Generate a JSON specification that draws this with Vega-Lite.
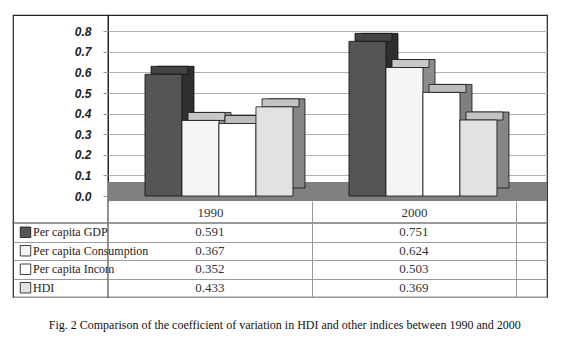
{
  "$schema": "https://vega.github.io/schema/vega-lite/v6.json",
  "padding": {"left": 12, "top": 14, "right": 5, "bottom": 5},
  "background": "white",
  "datasets": {
    "cv": [
      {"year": "1990", "series": "Per capita GDP", "value": 0.591},
      {"year": "1990", "series": "Per capita Consumption", "value": 0.367},
      {"year": "1990", "series": "Per capita Incom", "value": 0.352},
      {"year": "1990", "series": "HDI", "value": 0.433},
      {"year": "2000", "series": "Per capita GDP", "value": 0.751},
      {"year": "2000", "series": "Per capita Consumption", "value": 0.624},
      {"year": "2000", "series": "Per capita Incom", "value": 0.503},
      {"year": "2000", "series": "HDI", "value": 0.369}
    ]
  },
  "title": {
    "text": "Fig. 2 Comparison of the coefficient of variation in HDI and other indices between 1990 and 2000",
    "orient": "bottom",
    "anchor": "middle",
    "font": "Liberation Serif",
    "fontSize": 12,
    "fontWeight": "normal",
    "color": "#111",
    "offset": 22
  },
  "columns": 2,
  "spacing": 0,
  "bounds": "flush",
  "align": "each",
  "resolve": {"scale": {"fill": "independent", "x": "independent", "y": "independent"}},
  "concat": [
    {
      "width": 95,
      "height": 208,
      "data": {"values": [{}]},
      "mark": {"type": "text", "text": ""},
      "view": {"stroke": "#222", "strokeWidth": 1.2}
    },
    {
      "width": 439,
      "height": 208,
      "data": {"name": "cv"},
      "view": {"stroke": "#222", "strokeWidth": 1.2},
      "resolve": {"scale": {"fill": "independent", "xOffset": "independent", "y": "independent"}},
      "layer": [
        {
          "mark": {"type": "rule", "color": "#808080", "strokeWidth": 19, "yOffset": -4.5},
          "encoding": {
            "y": {"datum": 0, "type": "quantitative", "scale": {"domain": [-0.131, 0.879], "nice": false}, "axis": null}
          }
        },
        {
          "mark": {"type": "bar", "stroke": "#111", "strokeWidth": 0.8, "yOffset": -8, "y2Offset": -8},
          "encoding": {
            "x": {"field": "year", "type": "nominal", "axis": null, "scale": {"type": "band", "domain": ["1990", "2000"], "paddingInner": 0, "paddingOuter": 0.076, "align": 0}},
            "xOffset": {"field": "series", "type": "nominal", "scale": {"domain": ["Per capita GDP", "Per capita Consumption", "Per capita Incom", "HDI"], "paddingInner": 0, "paddingOuter": 0.757, "align": 0.875}},
            "y": {
              "field": "value",
              "type": "quantitative",
              "scale": {"domain": [-0.131, 0.879], "nice": false},
              "axis": {"orient": "right", "values": [0.1, 0.2, 0.3, 0.4, 0.5, 0.6, 0.7, 0.8], "labels": false, "ticks": false, "domain": false, "title": null, "grid": true, "gridColor": "#b0b0b0"}
            },
            "fill": {"field": "series", "type": "nominal", "legend": null, "scale": {"domain": ["Per capita GDP", "Per capita Consumption", "Per capita Incom", "HDI"], "range": ["#2f2f2f", "#8c8c8c", "#808080", "#858585"]}}
          }
        },
        {
          "mark": {"type": "bar", "stroke": "#111", "strokeWidth": 0.8, "yOffset": -8},
          "encoding": {
            "x": {"field": "year", "type": "nominal", "axis": null, "scale": {"type": "band", "domain": ["1990", "2000"], "paddingInner": 0, "paddingOuter": 0.076, "align": 0}},
            "xOffset": {"field": "series", "type": "nominal", "scale": {"domain": ["Per capita GDP", "Per capita Consumption", "Per capita Incom", "HDI"], "paddingInner": 0, "paddingOuter": 0.757, "align": 0.768}},
            "y": {"field": "value", "type": "quantitative", "scale": {"domain": [-0.131, 0.879], "nice": false}, "axis": null},
            "y2": {"field": "value"},
            "fill": {"field": "series", "type": "nominal", "legend": null, "scale": {"domain": ["Per capita GDP", "Per capita Consumption", "Per capita Incom", "HDI"], "range": ["#444444", "#c8c8c8", "#bdbdbd", "#c4c4c4"]}}
          }
        },
        {
          "mark": {"type": "bar", "stroke": "#111", "strokeWidth": 0.8},
          "encoding": {
            "x": {"field": "year", "type": "nominal", "axis": null, "scale": {"type": "band", "domain": ["1990", "2000"], "paddingInner": 0, "paddingOuter": 0.076, "align": 0}},
            "xOffset": {"field": "series", "type": "nominal", "scale": {"domain": ["Per capita GDP", "Per capita Consumption", "Per capita Incom", "HDI"], "paddingInner": 0, "paddingOuter": 0.757, "align": 0.66}},
            "y": {
              "field": "value",
              "type": "quantitative",
              "scale": {"domain": [-0.131, 0.879], "nice": false},
              "axis": {
                "values": [0, 0.1, 0.2, 0.3, 0.4, 0.5, 0.6, 0.7, 0.8],
                "format": ".1f",
                "title": null,
                "domain": false,
                "grid": false,
                "tickSize": 5,
                "tickColor": "#999",
                "labelPadding": 12,
                "labelFont": "Liberation Sans",
                "labelFontSize": 12,
                "labelFontWeight": "bold",
                "labelFontStyle": "italic",
                "labelColor": "#222"
              }
            },
            "fill": {"field": "series", "type": "nominal", "legend": null, "scale": {"domain": ["Per capita GDP", "Per capita Consumption", "Per capita Incom", "HDI"], "range": ["#555555", "#f4f4f4", "#ffffff", "#e2e2e2"]}}
          }
        }
      ]
    },
    {
      "width": 95,
      "height": 74,
      "data": {"name": "cv"},
      "transform": [{"filter": "datum.year == '1990'"}],
      "view": {"stroke": "#222", "strokeWidth": 1.2},
      "encoding": {
        "y": {
          "field": "series",
          "type": "nominal",
          "scale": {"type": "band", "domain": ["Per capita GDP", "Per capita Consumption", "Per capita Incom", "HDI"], "paddingInner": 0, "paddingOuter": 0},
          "axis": {"labels": false, "ticks": false, "domain": false, "title": null, "grid": true, "tickBand": "extent", "gridColor": "#999"}
        }
      },
      "layer": [
        {
          "mark": {"type": "point", "shape": "square", "size": 110, "filled": true, "opacity": 1, "stroke": "#111", "strokeWidth": 0.8, "xOffset": -35},
          "encoding": {
            "fill": {"field": "series", "type": "nominal", "legend": null, "scale": {"domain": ["Per capita GDP", "Per capita Consumption", "Per capita Incom", "HDI"], "range": ["#555555", "#f4f4f4", "#ffffff", "#e2e2e2"]}}
          }
        },
        {
          "mark": {"type": "text", "align": "left", "dx": -27.5, "font": "Liberation Serif", "fontSize": 12, "color": "#222"},
          "encoding": {"text": {"field": "series", "type": "nominal"}}
        }
      ]
    },
    {
      "width": 439,
      "height": 74,
      "data": {"name": "cv"},
      "view": {"stroke": "#222", "strokeWidth": 1.2},
      "mark": {"type": "text", "font": "Liberation Serif", "fontSize": 13, "color": "#333"},
      "encoding": {
        "x": {
          "field": "year",
          "type": "nominal",
          "scale": {"type": "band", "domain": ["1990", "2000"], "paddingInner": 0, "paddingOuter": 0.076, "align": 0},
          "axis": {"orient": "top", "title": null, "domain": false, "tickBand": "extent", "tickSize": 22, "tickColor": "#999", "labelPadding": -11, "labelBaseline": "middle", "labelAngle": 0, "labelFont": "Liberation Serif", "labelFontSize": 13, "labelColor": "#333", "grid": true, "gridColor": "#999"}
        },
        "y": {
          "field": "series",
          "type": "nominal",
          "scale": {"type": "band", "domain": ["Per capita GDP", "Per capita Consumption", "Per capita Incom", "HDI"], "paddingInner": 0, "paddingOuter": 0},
          "axis": {"labels": false, "ticks": false, "domain": false, "title": null, "grid": true, "tickBand": "extent", "gridColor": "#999"}
        },
        "text": {"field": "value", "type": "quantitative", "format": ".3f"}
      }
    }
  ]
}
